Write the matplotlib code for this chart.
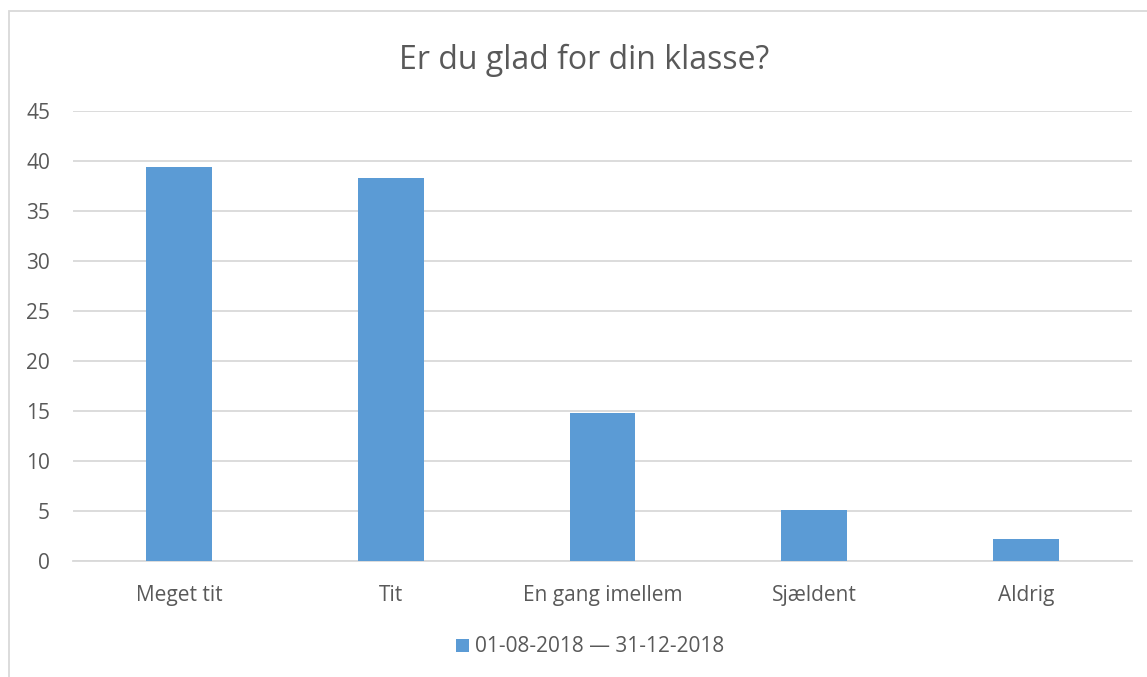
import matplotlib.pyplot as plt
from matplotlib.patches import Rectangle

categories = ["Meget tit", "Tit", "En gang imellem", "Sjældent", "Aldrig"]
values = [39.4, 38.3, 14.8, 5.1, 2.2]
series_label = "01-08-2018 \u2014 31-12-2018"
yticks = [0, 5, 10, 15, 20, 25, 30, 35, 40, 45]

bar_color = "#5B9BD5"
text_color = "#595959"
grid_color = "#D9D9D9"

plt.rcParams['font.family'] = ['Open Sans', 'DejaVu Sans']

fig = plt.figure(figsize=(11.47, 6.77), dpi=100)
ax = fig.add_axes([73 / 1147, 1 - 561 / 677, (1132 - 73) / 1147, (561 - 111) / 677])

x = range(len(categories))
ax.bar(x, values, width=0.31, color=bar_color, label=series_label, zorder=3)

ax.set_xlim(-0.5, len(categories) - 0.5)
ax.set_ylim(0, 45)
ax.set_yticks(yticks)
ax.set_xticks(list(x))
ax.set_xticklabels(categories)
ax.yaxis.grid(True, color=grid_color, linewidth=1.3, zorder=0)
ax.tick_params(axis='both', length=0, labelsize=15, colors=text_color)
ax.tick_params(axis='x', pad=17)
ax.tick_params(axis='y', pad=16.5)
for s in ax.spines.values():
    s.set_visible(False)
ax.spines['bottom'].set_visible(True)
ax.spines['bottom'].set_color(grid_color)
ax.spines['bottom'].set_linewidth(1.3)

fig.text(584 / 1147, 1 - 60 / 677, "Er du glad for din klasse?", ha='center', va='center',
         fontsize=23, color=text_color)

leg = fig.legend(loc='center', bbox_to_anchor=(590 / 1147, 1 - 647 / 677), frameon=False,
                 fontsize=15, handlelength=0.6, handleheight=0.6, handletextpad=0.3)
for t in leg.get_texts():
    t.set_color(text_color)

# chart border
fig.patches.append(Rectangle((9 / 1147, -0.05), 1.2, 1 - 11 / 677 + 0.05, transform=fig.transFigure,
                             fill=False, edgecolor=grid_color, linewidth=1.3))

fig.savefig("out.png", dpi=100)
